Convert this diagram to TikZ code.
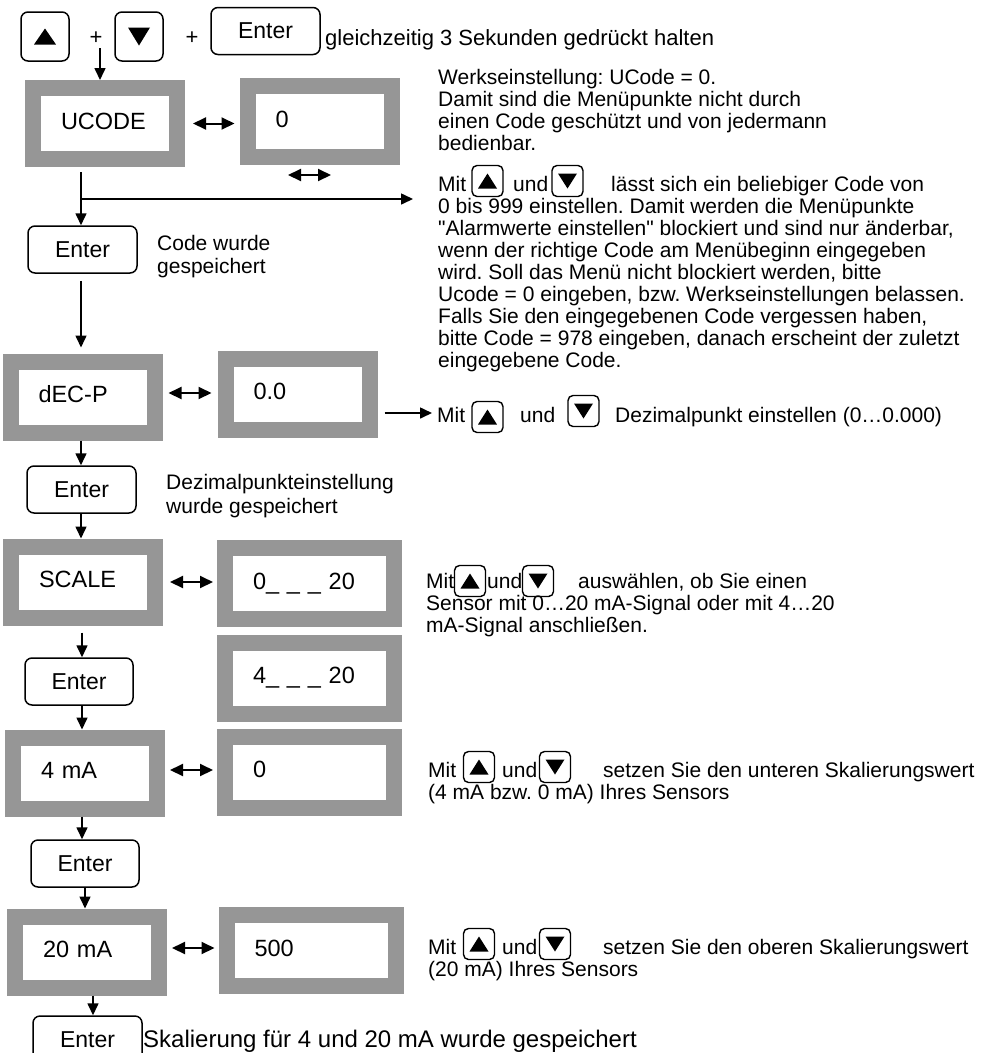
\documentclass[tikz,border=0pt]{standalone}
\usepackage{fontspec}
\setmainfont{Liberation Sans}
\usetikzlibrary{arrows.meta,calc}
\definecolor{lcdgray}{RGB}{150,150,150}
\newcommand\uptri[3]{\fill ([shift={(-#2,#3)}]#1.center) -- ([shift={(#2,#3)}]#1.center) -- ([shift={(0,-#3)}]#1.center) -- cycle;}
\newcommand\downtri[3]{\fill ([shift={(-#2,-#3)}]#1.center) -- ([shift={(#2,-#3)}]#1.center) -- ([shift={(0,#3)}]#1.center) -- cycle;}
\frenchspacing
\begin{document}
\begin{tikzpicture}[x=1pt,y=-1pt,
  txt/.style={font=\fontsize{21}{22}\selectfont, anchor=base west, inner sep=0pt},
  plus/.style={font=\fontsize{22}{22}\selectfont, inner sep=0pt},
  lcd/.style={draw=lcdgray, line width=16pt, fill=white, inner xsep=28pt, inner ysep=0pt, align=left,
              font=\fontsize{23.5}{26}\selectfont, minimum height=71pt, text width=88pt, text height=17pt, text depth=6pt},
  lcdwide/.style={lcd, text width=113pt},
  enterkey/.style={draw, line width=1.5pt, rounded corners=7pt, minimum width=109pt, minimum height=47pt, inner sep=0pt,
              font=\fontsize{23}{26}\selectfont},
  bigkey/.style={draw, line width=1.5pt, rounded corners=7pt, minimum width=48pt, minimum height=49pt, inner sep=0pt},
  smallkey/.style={draw, line width=1.4pt, rounded corners=5pt, minimum width=31pt, minimum height=31pt, inner sep=0pt},
  arr/.style={line width=1.6pt, -{Triangle[length=12pt,width=11pt]}},
  darr/.style={line width=2pt, {Triangle[length=13pt,width=12pt]}-{Triangle[length=13pt,width=12pt]}},
]
\useasboundingbox (0,0) rectangle (982,1053);
\clip (0,0) rectangle (982,1053);

% ---- top row
\node[bigkey] (kup) at (45,36.5) {};
\uptri{kup}{11}{8}
\node[bigkey] (kdown) at (139,36.5) {};
\downtri{kdown}{11}{9}
\node[plus] (p1) at (96,38) {+};
\node[plus] (p2) at (192,38) {+};
\node[enterkey] (e0) at (265.5,31) {Enter};
\node[txt, font=\fontsize{22}{24}\selectfont] (t0) at (325,45) {gleichzeitig 3 Sekunden gedrückt halten};

% ---- UCODE
\node[lcd] (ucode) at (105,123.5) {UCODE};
\node[lcd] (uval) at (319.5,121.5) {0};
\coordinate (a0) at (100,48);
\draw[arr] (a0) -- (a0 |- ucode.north);
\draw[darr, shorten <=8pt, shorten >=5pt] (ucode.east) -- (ucode.east -| uval.west);
\coordinate (s1) at (288,175);
\coordinate (s2) at (331,175);
\draw[darr] (s1) -- (s2);

\coordinate (c1) at (81,199);
\coordinate (tb2) at (413,199);
\draw[arr, shorten <=5pt] (ucode.south -| c1) -- (c1) -- (tb2);
\node[enterkey] (e1) at (82.5,249.5) {Enter};
\draw[arr] (c1) -- (c1 |- e1.north);
\node[txt] (cw1) at (157,250) {Code wurde};
\node[txt] (cw2) at (157,273) {gespeichert};

% ---- right text block 1
\foreach \t [count=\i from 0] in {{Werkseinstellung: UCode = 0.},{Damit sind die Menüpunkte nicht durch},
  {einen Code geschützt und von jedermann},{bedienbar.}}
  \node[txt] (b1-\i) at (438,84+22*\i) {\t};

% ---- right text block 2
\node[txt] (m1) at (438,191) {Mit};
\node[smallkey] (m1u) at (487.5,181) {};
\uptri{m1u}{9.5}{7.5}
\node[txt] (m1und) at (513,191) {und};
\node[smallkey] (m1d) at (567.5,181) {};
\downtri{m1d}{9.5}{7.5}
\node[txt] (m1r) at (611,191) {lässt sich ein beliebiger Code von};
\foreach \t [count=\i from 1] in {{0 bis 999 einstellen. Damit werden die Menüpunkte},
  {\textquotedbl Alarmwerte einstellen\textquotedbl{} blockiert und sind nur änderbar,},
  {wenn der richtige Code am Menübeginn eingegeben},
  {wird. Soll das Menü nicht blockiert werden, bitte},
  {Ucode = 0 eingeben, bzw. Werkseinstellungen belassen.},
  {Falls Sie den eingegebenen Code vergessen haben,},
  {bitte Code = 978 eingeben, danach erscheint der zuletzt},
  {eingegebene Code.}}
  \node[txt] (b2-\i) at (438,191+22*\i) {\t};

% ---- dEC-P
\node[lcd] (decp) at (82.5,397) {dEC-P};
\node[lcd] (dec0) at (297.5,394) {0.0};
\draw[arr, shorten <=7pt, shorten >=6pt] (e1.south -| c1) -- (c1 |- decp.north);
\draw[darr, shorten <=6pt, shorten >=6pt] ([yshift=4pt]decp.east) -- ([yshift=4pt]decp.east -| dec0.west);
\coordinate (dz) at (432,413);
\draw[arr, shorten <=7pt] (dec0.east |- dz) -- (dz);
\node[txt] (dm) at (437,422) {Mit};
\node[smallkey] (dmu) at (487.5,417) {};
\uptri{dmu}{9.5}{7.5}
\node[txt] (dmund) at (520,422) {und};
\node[smallkey] (dmd) at (583.5,411) {};
\downtri{dmd}{9.5}{7.5}
\node[txt] (dmr) at (615,422) {Dezimalpunkt einstellen (0…0.000)};

\node[enterkey] (e2) at (81.5,489.5) {Enter};
\draw[arr] (decp.south -| c1) -- (c1 |- e2.north);
\node[txt] (dz1) at (166,489) {Dezimalpunkteinstellung};
\node[txt] (dz2) at (166,513) {wurde gespeichert};

% ---- SCALE
\node[lcd] (scale) at (83,582) {SCALE};
\node[lcdwide] (sc0) at (309.5,583.5) {0\_ \_ \_ 20};
\node[lcdwide] (sc4) at (309.5,678) {4\_ \_ \_ 20};
\draw[arr] (e2.south -| c1) -- (c1 |- scale.north);
\draw[darr, shorten <=7pt, shorten >=4pt] (scale.east) -- (scale.east -| sc0.west);
\node[txt] (sm) at (426,588) {Mit};
\node[smallkey] (smu) at (470,581) {};
\uptri{smu}{9.5}{7.5}
\node[txt] (smund) at (487,588) {und};
\node[smallkey] (smd) at (538,581) {};
\downtri{smd}{9.5}{7.5}
\node[txt] (smr) at (578,588) {auswählen, ob Sie einen};
\node[txt] (sm2) at (426,610) {Sensor mit 0…20 mA-Signal oder mit 4…20};
\node[txt] (sm3) at (426,632) {mA-Signal anschließen.};

\node[enterkey, minimum width=108pt] (e3) at (79,681.5) {Enter};
\coordinate (c2) at (82,600);
\draw[arr, shorten <=7pt] (scale.south -| c2) -- (c2 |- e3.north);

% ---- 4 mA
\node[lcd] (ma4) at (85,773) {4 mA};
\node[lcdwide] (ma4v) at (309.5,772) {0};
\draw[arr] (e3.south -| c2) -- (c2 |- ma4.north);
\draw[darr, shorten <=5pt, shorten >=4pt] ([yshift=3pt]ma4.east) -- ([yshift=3pt]ma4.east -| ma4v.west);
\node[txt] (fm) at (428,777) {Mit};
\node[smallkey] (fmu) at (479,767) {};
\uptri{fmu}{9.5}{7.5}
\node[txt] (fmund) at (502,777) {und};
\node[smallkey] (fmd) at (555,767) {};
\downtri{fmd}{9.5}{7.5}
\node[txt] (fmr) at (603,777) {setzen Sie den unteren Skalierungswert};
\node[txt] (fm2) at (428,799) {(4 mA bzw. 0 mA) Ihres Sensors};

\node[enterkey, minimum width=108pt] (e4) at (85,863.5) {Enter};
\draw[arr] (ma4.south -| c2) -- (c2 |- e4.north);

% ---- 20 mA
\node[lcd] (ma20) at (87,952) {20 mA};
\node[lcdwide] (ma20v) at (311,950.5) {500};
\coordinate (c3) at (85,900);
\draw[arr] (e4.south -| c3) -- (c3 |- ma20.north);
\draw[darr, shorten <=5pt, shorten >=4pt] ([yshift=4pt]ma20.east) -- ([yshift=4pt]ma20.east -| ma20v.west);
\node[txt] (tm) at (428,954) {Mit};
\node[smallkey] (tmu) at (479,944) {};
\uptri{tmu}{9.5}{7.5}
\node[txt] (tmund) at (502,954) {und};
\node[smallkey] (tmd) at (555,944) {};
\downtri{tmd}{9.5}{7.5}
\node[txt] (tmr) at (603,954) {setzen Sie den oberen Skalierungswert};
\node[txt] (tm2) at (428,976) {(20 mA) Ihres Sensors};

\node[enterkey] (e5) at (87.5,1039.5) {Enter};
\coordinate (c4) at (93,1000);
\draw[arr] (ma20.south -| c4) -- (c4 |- e5.north);
\node[txt, font=\fontsize{24}{26}\selectfont] (sk) at (143,1047) {Skalierung für 4 und 20 mA wurde gespeichert};
\end{tikzpicture}
\end{document}
